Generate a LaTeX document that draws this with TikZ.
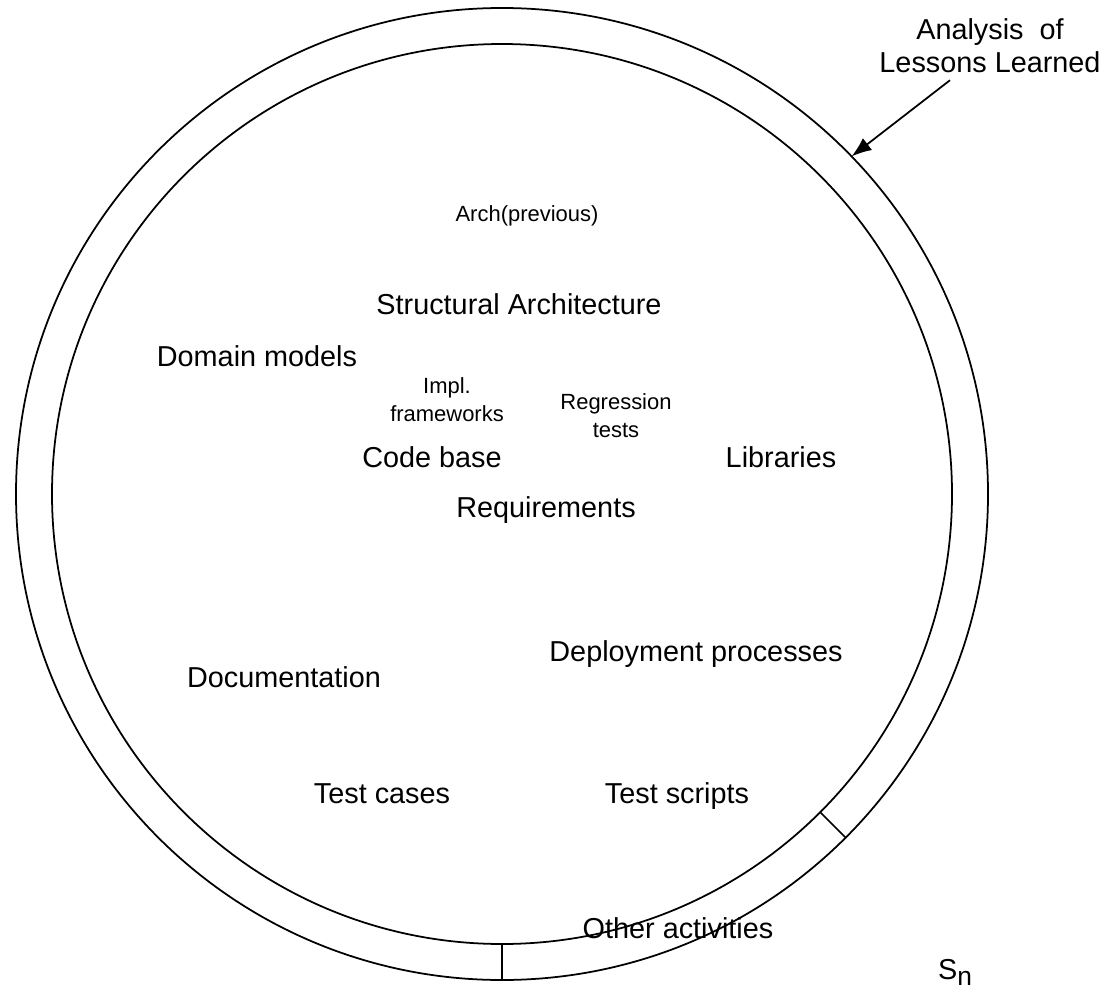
\documentclass[tikz,border=0pt]{standalone}
\usepackage{fontspec}
\setmainfont{Liberation Sans}
\usetikzlibrary{positioning,calc}
\usetikzlibrary{arrows.meta}
\tikzset{ring/.style={circle,draw=black,line width=1pt,inner sep=0pt,outer sep=0pt}, lab/.style={font=\fontsize{16.4}{18.8}\selectfont,inner sep=1pt,align=center}, smalllab/.style={font=\fontsize{12.5}{15.8}\selectfont,inner sep=1pt,align=center}, tickline/.style={draw=black,line width=1pt}}

\begin{document}
\begin{tikzpicture}
\useasboundingbox (0,0) rectangle (22.14,-19.92);
\coordinate (c) at (10.04,-9.88);
\node[ring,minimum size=19.44cm] (outer) at (c) {};
\node[ring,minimum size=18cm] (inner) at (c) {};
\draw[tickline] (inner.270)--(outer.270);
\draw[tickline] (inner.-45)--(outer.-45);
\node[lab] (lessons) at (19.8,-0.92) {Analysis~ of\\Lessons Learned};
\draw[line width=1pt,-{Latex[length=4mm,width=3mm]}] ([xshift=-0.8cm,yshift=-0.1cm]lessons.south)--(outer.44);
\node[smalllab] (arch) at (10.54,-4.32) {Arch(previous)};
\node[lab] (struct) at (10.38,-6.08) {Structural Architecture};
\node[lab] (domain) at (5.14,-7.12) {Domain models};
\node[smalllab] (impl) at (8.94,-8.0) {Impl.\\frameworks};
\node[smalllab] (regr) at (12.32,-8.32) {Regression\\tests};
\node[lab] (code) at (8.64,-9.14) {Code base};
\node[lab] (libs) at (15.62,-9.14) {Libraries};
\node[lab] (reqs) at (10.92,-10.2) {Requirements};
\node[lab] (deploy) at (13.92,-13.08) {Deployment processes};
\node[lab] (docs) at (5.68,-13.54) {Documentation};
\node[lab] (tcases) at (7.64,-15.88) {Test cases};
\node[lab] (tscripts) at (13.54,-15.92) {Test scripts};
\node[lab] (other) at (13.56,-18.56) {Other activities};
\node[lab] (sn) at (19.1,-19.45) {S\raisebox{-0.45ex}{\fontsize{15}{15}\selectfont n}};
\end{tikzpicture}
\end{document}
